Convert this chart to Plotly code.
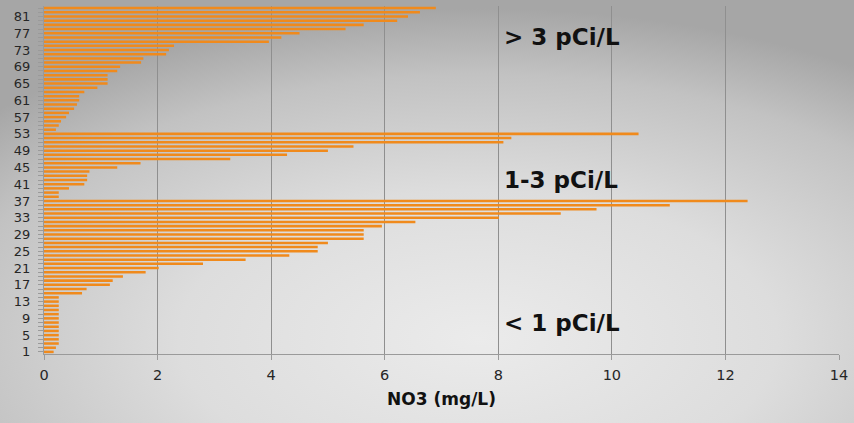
import base64
import plotly.graph_objects as go

categories = list(range(1, 84))
no3_values = [
    0.17, 0.21,
    0.26, 0.26, 0.26, 0.26, 0.26, 0.26, 0.26, 0.26, 0.26, 0.26, 0.26, 0.26,
    0.67, 0.75, 1.16, 1.21, 1.39, 1.79, 2.02, 2.80, 3.55, 4.32,
    4.82, 4.82, 5.00, 5.63, 5.63, 5.63, 5.95, 6.54, 8.01, 9.10,
    9.73, 11.02, 12.39,
    0.26, 0.26, 0.44, 0.71, 0.76, 0.76, 0.80, 1.29, 1.70, 3.28,
    4.28, 5.00, 5.45, 8.09, 8.23, 10.47,
    0.21, 0.26, 0.30, 0.39, 0.44, 0.53, 0.58, 0.62, 0.62, 0.71,
    0.94, 1.12, 1.12, 1.12, 1.29, 1.34, 1.71, 1.75, 2.15, 2.20,
    2.29, 3.96, 4.18, 4.50, 5.31, 5.63, 6.22, 6.41, 6.62, 6.90,
]
y_tick_values = list(range(1, 84, 4))
x_tick_values = [0, 2, 4, 6, 8, 10, 12, 14]
group_labels = ["> 3 pCi/L", "1-3 pCi/L", "< 1 pCi/L"]
group_label_y = [76.2, 41.9, 7.9]

W, H = 854, 423
ML, MR, MT, MB = 44, 15, 6, 69
pw = W - ML - MR
ph = H - MT - MB

svg = f'''<svg xmlns="http://www.w3.org/2000/svg" width="{W}" height="{H}" viewBox="0 0 {W} {H}" preserveAspectRatio="none">
<defs><radialGradient id="g" cx="0.56" cy="0.8" r="0.78" gradientUnits="objectBoundingBox">
<stop offset="0" stop-color="#ebebeb"/><stop offset="0.45" stop-color="#dddddd"/>
<stop offset="0.8" stop-color="#c2c2c2"/><stop offset="1" stop-color="#a6a6a6"/></radialGradient></defs>
<rect width="{W}" height="{H}" fill="url(#g)"/></svg>'''
src = "data:image/svg+xml;base64," + base64.b64encode(svg.encode()).decode()

fig = go.Figure(go.Bar(
    x=no3_values, y=categories, orientation="h",
    marker=dict(color="#F08A1C", line=dict(width=0)),
    width=0.6, hoverinfo="x+y",
))

for lab, yy in zip(group_labels, group_label_y):
    fig.add_annotation(x=8.07, y=yy, text=f"<b>{lab}</b>", showarrow=False,
                       xanchor="left", yanchor="middle",
                       font=dict(family="DejaVu Sans, Verdana, sans-serif", size=23, color="#111111"))

fig.update_layout(
    width=W, height=H,
    margin=dict(l=ML, r=MR, t=MT, b=MB, pad=0),
    paper_bgcolor="rgba(0,0,0,0)", plot_bgcolor="rgba(0,0,0,0)",
    showlegend=False,
    images=[dict(source=src, xref="paper", yref="paper",
                 x=-ML / pw, y=1 + MT / ph, sizex=W / pw, sizey=H / ph,
                 xanchor="left", yanchor="top", sizing="stretch", layer="below")],
    xaxis=dict(range=[0, 14], tickvals=x_tick_values, showgrid=True,
               gridcolor="#8f8f8f", gridwidth=1, zeroline=False,
               showline=True, linecolor="#9a9a9a", linewidth=1,
               ticks="outside", ticklen=5, tickcolor="#9a9a9a", ticklabelstandoff=3,
               tickfont=dict(family="DejaVu Sans, Verdana, sans-serif", size=14.5, color="#262626"),
               title=dict(text="<b>NO3 (mg/L)</b>", standoff=10,
                          font=dict(family="DejaVu Sans, Verdana, sans-serif", size=17, color="#111111"))),
    yaxis=dict(range=[0.5, 83.5], tickvals=y_tick_values, showgrid=False,
               zeroline=False, showline=True, linecolor="#9a9a9a", linewidth=1,
               ticks="outside", ticklen=5, tickcolor="#9a9a9a", ticklabelstandoff=5,
               minor=dict(dtick=1, tick0=0, ticks="outside", ticklen=5, tickcolor="#9a9a9a", showgrid=False),
               tickfont=dict(family="DejaVu Sans, Verdana, sans-serif", size=13, color="#262626")),
    bargap=0.4,
)

fig.write_html("out.html", config={"displayModeBar": False},
               post_script="document.body.style.margin='0';document.body.style.overflow='hidden';")
